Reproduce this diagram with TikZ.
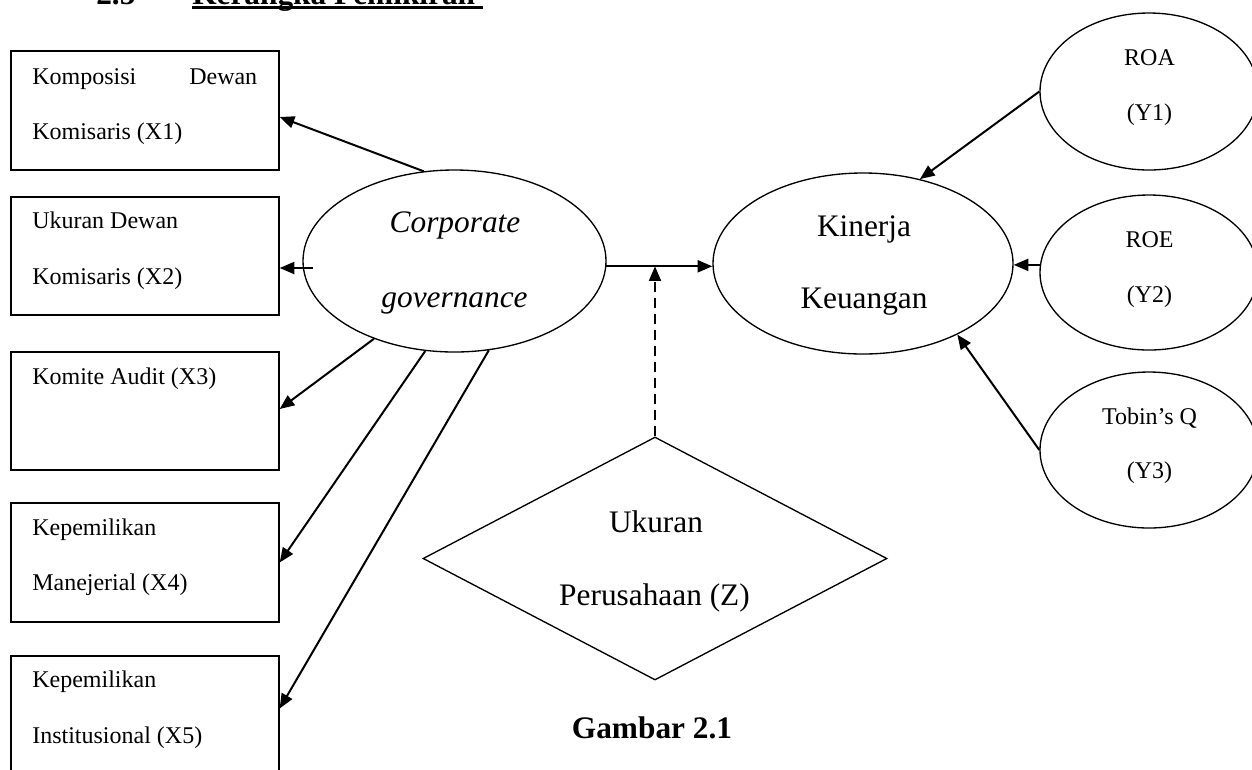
\documentclass[tikz,border=0pt]{standalone}
\usepackage{fontspec}
\setmainfont{Liberation Serif}
\usetikzlibrary{shapes.geometric,arrows.meta,calc}
\tikzset{
  box/.style={draw, line width=1pt, rectangle, minimum width=201pt, inner sep=0},
  oval/.style={draw, line width=1pt, ellipse, inner sep=0},
  sm/.style={inner sep=0, font=\fontsize{18}{21}\selectfont},
  lg/.style={inner sep=0, font=\fontsize{23.5}{28}\selectfont},
  arr/.style={line width=1.5pt, -{Triangle[length=11pt,width=9pt]}},
}
\begin{document}
\begin{tikzpicture}[x=0.75pt,y=-0.75pt]
\useasboundingbox (0,0) rectangle (1252,769);
\clip (0,0) rectangle (1252,769);
% title (cut off at the top)
\node[lg, anchor=base west] (num) at (96,4.5) {\bfseries 2.5};
\node[lg, anchor=base west] (title) at (192,4.5) {\bfseries Kerangka Pemikiran};
\fill (192,6) rectangle (483,9);
% boxes
\node[box, minimum height=89.25pt] (b1) at (145,110.5) {};
\node[box, minimum height=88.5pt] (b2) at (145,256) {};
\node[box, minimum height=88.5pt] (b3) at (145,411) {};
\node[box, minimum height=89.25pt] (b4) at (145,562.5) {};
\node[box, minimum height=89.25pt] (b5) at (145,715.5) {};
\node[sm, anchor=base west] (t1a) at (32,84) {\hbox to 168.75pt{Komposisi\hfill Dewan}};
\node[sm, anchor=base west] (t1b) at (32,139) {Komisaris (X1)};
\node[sm, anchor=base west] (t2a) at (32,228) {Ukuran Dewan};
\node[sm, anchor=base west] (t2b) at (32,284) {Komisaris (X2)};
\node[sm, anchor=base west] (t3a) at (32,384) {Komite Audit (X3)};
\node[sm, anchor=base west] (t4a) at (32,535) {Kepemilikan};
\node[sm, anchor=base west] (t4b) at (32,590) {Manejerial (X4)};
\node[sm, anchor=base west] (t5a) at (32,687) {Kepemilikan};
\node[sm, anchor=base west] (t5b) at (32,743) {Institusional (X5)};
% corporate governance
\node[oval, minimum width=227.25pt, minimum height=136.5pt] (cg) at (454.5,261) {};
\node[lg, anchor=base] (cg1) at (455,232) {\itshape Corporate};
\node[lg, anchor=base] (cg2) at (454.5,307) {\itshape governance};
% kinerja keuangan
\node[oval, minimum width=225pt, minimum height=135.75pt] (kin) at (863,263.5) {};
\node[lg, anchor=base] (kin1) at (864,236) {Kinerja};
\node[lg, anchor=base] (kin2) at (864,308) {Keuangan};
% right ovals
\node[oval, minimum width=163.5pt, minimum height=117.75pt] (roa) at (1149,91.5) {};
\node[sm, anchor=base] (roa1) at (1149.5,65) {ROA};
\node[sm, anchor=base] (roa2) at (1149.5,120) {(Y1)};
\node[oval, minimum width=163.5pt, minimum height=116.25pt] (roe) at (1149,272.5) {};
\node[sm, anchor=base] (roe1) at (1149.5,247) {ROE};
\node[sm, anchor=base] (roe2) at (1149.5,302) {(Y2)};
\node[oval, minimum width=163.5pt, minimum height=117pt] (tq) at (1149,450) {};
\node[sm, anchor=base] (tq1) at (1149.5,424) {Tobin’s Q};
\node[sm, anchor=base] (tq2) at (1149.5,478) {(Y3)};
% diamond
\node[draw, line width=1pt, diamond, minimum width=348pt, minimum height=182.25pt, inner sep=0] (dia) at (655,558.5) {};
\node[lg, anchor=base] (dia1) at (656,532) {Ukuran};
\node[lg, anchor=base] (dia2) at (654.5,605) {Perusahaan (Z)};
\node[lg, anchor=base] (cap) at (652,738) {\bfseries Gambar 2.1};
% arrows
\coordinate (cgl) at (313,268);
\draw[arr] (cg.109.5) -- ($(b1.east)+(0,6.5)$);
\draw[arr] (cgl) -- (cgl -| b2.east);
\draw[arr] (cg.-136.7) -- ($(b3.east)+(0,-2)$);
\draw[arr] (cg.-108.9) -- (b4.east);
\draw[arr] (cg.-69.3) -- ($(b5.east)+(0,-7)$);
\draw[arr] (cg.-2.65) -- (cg.-2.65 -| kin.west);
\draw[arr, dash pattern=on 7.5pt off 4.5pt] (dia.north) -- (dia.north |- cg.-2.65);
\draw[arr] (roa.west) -- (kin.56);
\draw[arr] (roe.176) -- (roe.176 -| kin.east);
\draw[arr] (tq.west) -- (kin.-37.7);
\end{tikzpicture}
\end{document}
